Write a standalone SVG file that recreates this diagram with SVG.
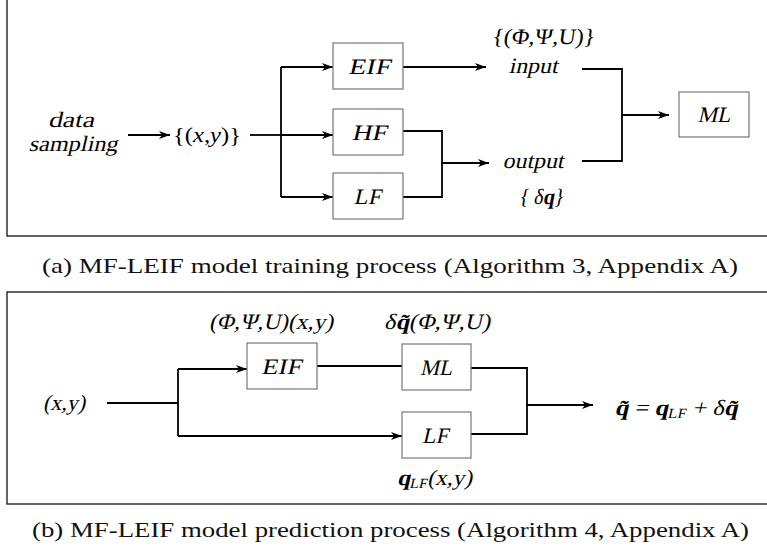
<svg xmlns="http://www.w3.org/2000/svg" width="767" height="552" viewBox="0 0 767 552">
  <defs>
    <marker id="arrow" markerUnits="userSpaceOnUse" markerWidth="12" markerHeight="10" refX="11" refY="5" orient="auto">
      <path d="M0,1 L11,5 L0,9 L3,5 Z" fill="#000"/>
    </marker>
    <style>
      .frame { fill: none; stroke: #222; stroke-width: 1.4; }
      .box { fill: #fff; stroke: #777; stroke-width: 1.2; }
      .wire { fill: none; stroke: #000; stroke-width: 1.8; }
      .arr { marker-end: url(#arrow); }
      /* labels: upright serif slanted by a skew transform */
      .lbl { font-family: 'Liberation Serif', 'Times New Roman', serif; font-size: 22px; fill: #000; text-anchor: middle; }
      .b { font-weight: bold; }
      .sub { font-size: 14px; font-weight: normal; }
      .cap { font-family: 'Liberation Serif', 'Times New Roman', serif; font-size: 22px; fill: #111; }
    </style>
  </defs>

  <!-- panel frames -->
  <rect class="frame" x="7" y="-5" width="770" height="241"/>
  <rect class="frame" x="7" y="292" width="770" height="212"/>

  <!-- training process connectors -->
  <g id="connectors-training">
    <line class="wire arr" x1="128" y1="135" x2="170" y2="135"/>
    <line class="wire" x1="250" y1="135" x2="281" y2="135"/>
    <path class="wire" d="M281,67 V197"/>
    <line class="wire arr" x1="281" y1="67" x2="333" y2="67"/>
    <line class="wire arr" x1="281" y1="135" x2="333" y2="135"/>
    <line class="wire arr" x1="281" y1="197" x2="333" y2="197"/>
    <line class="wire arr" x1="403" y1="67" x2="486" y2="67"/>
    <path class="wire" d="M403,131 H442 V197 H403"/>
    <line class="wire arr" x1="442" y1="163" x2="489" y2="163"/>
    <path class="wire" d="M582,69 H622 V161 H582"/>
    <line class="wire arr" x1="622" y1="115" x2="669" y2="115"/>
  </g>

  <!-- training process labels and nodes -->
  <g id="data-sampling">
    <text class="lbl" transform="translate(71,127) skewX(-13)" textLength="46" lengthAdjust="spacingAndGlyphs">data</text>
    <text class="lbl" transform="translate(73,151) skewX(-13)" textLength="89" lengthAdjust="spacingAndGlyphs">sampling</text>
  </g>
  <g id="samples">
    <text class="lbl" x="207" y="142" textLength="68" lengthAdjust="spacingAndGlyphs">{(<tspan font-style="italic">x</tspan>,<tspan font-style="italic">y</tspan>)}</text>
  </g>
  <g id="eif-a">
    <rect class="box" x="333" y="43" width="70" height="46"/>
    <text class="lbl" transform="translate(369,74) skewX(-13)" textLength="42" lengthAdjust="spacingAndGlyphs">EIF</text>
  </g>
  <g id="hf-a">
    <rect class="box" x="333" y="109" width="70" height="46"/>
    <text class="lbl" transform="translate(369,140) skewX(-13)" textLength="35" lengthAdjust="spacingAndGlyphs">HF</text>
  </g>
  <g id="lf-a">
    <rect class="box" x="333" y="173" width="70" height="46"/>
    <text class="lbl" transform="translate(367,204) skewX(-13)" textLength="27" lengthAdjust="spacingAndGlyphs">LF</text>
  </g>
  <g id="input">
    <text class="lbl" transform="translate(543,44) skewX(-8)" textLength="103" lengthAdjust="spacingAndGlyphs">{(Φ,Ψ,U)}</text>
    <text class="lbl" transform="translate(533,73) skewX(-13)" textLength="49" lengthAdjust="spacingAndGlyphs">input</text>
  </g>
  <g id="output">
    <text class="lbl" transform="translate(533,168) skewX(-13)" textLength="61" lengthAdjust="spacingAndGlyphs">output</text>
    <text class="lbl" transform="translate(541,204) skewX(-10)" textLength="45" lengthAdjust="spacingAndGlyphs">{ δ<tspan class="b">q</tspan>}</text>
  </g>
  <g id="ml-a">
    <rect class="box" x="679" y="92" width="70" height="45"/>
    <text class="lbl" transform="translate(714,122) skewX(-13)" textLength="33" lengthAdjust="spacingAndGlyphs">ML</text>
  </g>

  <text class="cap" x="42" y="273" textLength="696" lengthAdjust="spacingAndGlyphs">(a) MF-LEIF model training process (Algorithm 3, Appendix A)</text>

  <!-- prediction process connectors -->
  <g id="connectors-prediction">
    <line class="wire" x1="107" y1="403" x2="178" y2="403"/>
    <path class="wire" d="M178,369 V436"/>
    <line class="wire arr" x1="178" y1="369" x2="247" y2="369"/>
    <line class="wire arr" x1="178" y1="436" x2="402" y2="436"/>
    <line class="wire" x1="317" y1="366" x2="402" y2="366"/>
    <path class="wire" d="M471,368 H527 V434 H471"/>
    <line class="wire arr" x1="527" y1="405" x2="593" y2="405"/>
  </g>

  <g id="xy">
    <text class="lbl" transform="translate(64,410) skewX(-13)" textLength="42" lengthAdjust="spacingAndGlyphs">(x,y)</text>
  </g>
  <g id="eif-b">
    <text class="lbl" transform="translate(271,329) skewX(-13)" textLength="124" lengthAdjust="spacingAndGlyphs">(Φ,Ψ,U)(x,y)</text>
    <rect class="box" x="247" y="343" width="70" height="46"/>
    <text class="lbl" transform="translate(281,374) skewX(-13)" textLength="40" lengthAdjust="spacingAndGlyphs">EIF</text>
  </g>
  <g id="ml-b">
    <text class="lbl" transform="translate(437,329) skewX(-13)" textLength="106" lengthAdjust="spacingAndGlyphs">δ<tspan class="b">q̃</tspan>(Φ,Ψ,U)</text>
    <rect class="box" x="402" y="344" width="69" height="46"/>
    <text class="lbl" transform="translate(436,375) skewX(-13)" textLength="32" lengthAdjust="spacingAndGlyphs">ML</text>
  </g>
  <g id="lf-b">
    <rect class="box" x="402" y="412" width="69" height="46"/>
    <text class="lbl" transform="translate(435,443) skewX(-13)" textLength="26" lengthAdjust="spacingAndGlyphs">LF</text>
    <text class="lbl" transform="translate(434.5,485) skewX(-13)" textLength="75" lengthAdjust="spacingAndGlyphs"><tspan class="b">q</tspan><tspan class="sub" dy="3">LF</tspan><tspan dy="-3">(x,y)</tspan></text>
  </g>
  <g id="result">
    <text class="lbl" transform="translate(676,415) skewX(-13)" textLength="123" lengthAdjust="spacingAndGlyphs"><tspan class="b">q̃</tspan> = <tspan class="b">q</tspan><tspan class="sub" dy="3">LF</tspan><tspan dy="-3"> + </tspan>δ<tspan class="b">q̃</tspan></text>
  </g>

  <text class="cap" x="32" y="537" textLength="717" lengthAdjust="spacingAndGlyphs">(b) MF-LEIF model prediction process (Algorithm 4, Appendix A)</text>
</svg>
